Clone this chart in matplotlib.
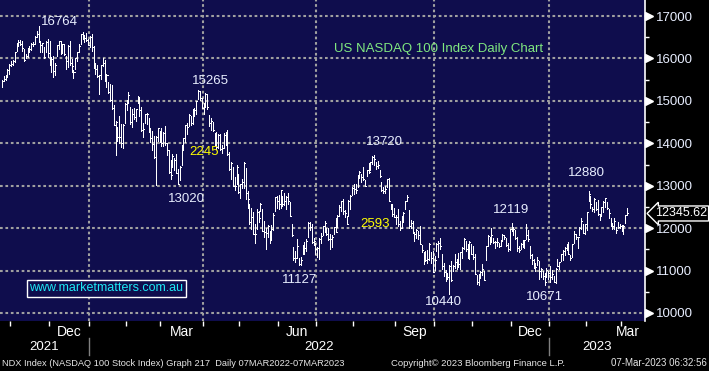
import numpy as np
import pandas as pd
import matplotlib
matplotlib.use('Agg')
import matplotlib.pyplot as plt
from matplotlib import transforms

plt.rcParams['font.family'] = ['Liberation Sans', 'DejaVu Sans']

# NYSE holidays in the window (trading calendar for the x axis)
holidays = ['2021-11-25', '2021-12-24', '2022-01-17', '2022-02-21', '2022-04-15',
            '2022-05-30', '2022-06-20', '2022-07-04', '2022-09-05', '2022-11-24',
            '2022-12-26', '2023-01-02', '2023-01-16', '2023-02-20']

# daily highs / lows / closes, 25 Oct 2021 .. 6 Mar 2023
high = [
    # Oct 2021
    15500, 15590, 15620, 15750, 15860,
    # Nov
    15930, 15970, 16160, 16370, 16440, 16440, 16400, 16230, 16110, 16250,
    16290, 16370, 16380, 16520, 16640, 16764, 16400, 16370, 16270, 16420, 16450,
    # Dec
    16400, 16040, 16060, 15900, 16320, 16420, 16400, 16340, 16340, 16050, 16320,
    16410, 15980, 15730, 16000, 16160, 16330, 16570, 16630, 16560, 16590, 16470,
    # Jan 2022
    16520, 16570, 16300, 15900, 15840, 15600, 15850, 16000, 15960, 15630,
    15450, 15400, 15380, 14900, 14520, 14390, 14640, 14460, 14450, 14940,
    # Feb
    15030, 15200, 14850, 14810, 14830, 14820, 15110, 15060, 14850, 14470,
    14690, 14710, 14600, 14360, 14290, 14180, 14170, 14360, 14300,
    # Mar
    14350, 14260, 14400, 14000, 13850, 13600, 13740, 13650, 13740, 13400, 13460, 13960,
    14120, 14420, 14470, 14700, 14640, 14800, 14840, 15000, 15265, 15230, 15070,
    # Apr
    14950, 15180, 15160, 14670, 14600, 14500, 14240, 14270, 14230, 14230,
    13960, 14240, 14270, 14320, 13790, 13560, 13440, 13200, 13500, 13270,
    # May
    13050, 13160, 13570, 13410, 12880, 12560, 12480, 12380, 12100, 12450, 12410,
    12600, 12440, 12170, 12000, 12070, 11930, 12080, 12360, 12730, 12760,
    # Jun
    12790, 12890, 12760, 12830, 12760, 12820, 12620, 12100, 11550, 11450, 11750,
    11300, 11330, 11600, 11680, 11740, 12140, 12150, 12090, 11770, 11660,
    # Jul
    11560, 11760, 11890, 12060, 12180, 12010, 12000, 11860, 11830, 12030,
    12230, 12300, 12540, 12650, 12680, 12420, 12280, 12670, 12790, 12980,
    # Aug
    13040, 13050, 13260, 13340, 13280, 13430, 13140, 13380, 13530, 13570, 13690, 13720,
    13570, 13580, 13380, 13080, 12970, 13000, 13160, 13190, 12560, 12560, 12480,
    # Sep
    12300, 12450, 12180, 12280, 12380, 12640, 12790, 12420, 12190, 12160, 11880,
    11980, 11930, 12060, 11610, 11430, 11450, 11490, 11660, 11440, 11460,
    # Oct
    11350, 11660, 11700, 11760, 11380, 11180, 11020, 10950, 11140, 11230, 11140,
    11390, 11270, 11420, 11440, 11560, 11770, 11690, 11620, 11690, 11620,
    # Nov
    11590, 11390, 10900, 10930, 10990, 11150, 11000, 11590, 11830, 11790, 12000,
    11770, 11700, 11770, 11660, 11730, 11860, 11830, 11760, 11640, 11990,
    # Dec
    12119, 12000, 11960, 11780, 11580, 11640, 11710, 11710, 12100, 11960, 11580,
    11380, 11270, 11180, 11310, 11220, 11050, 10990, 10940, 11070, 10980,
    # Jan 2023
    11100, 11010, 10880, 11060, 11280, 11210, 11390, 11480, 11550, 11620,
    11680, 11360, 11630, 11930, 11860, 11780, 12020, 12240, 12090, 12100,
    # Feb
    12390, 12880, 12750, 12510, 12720, 12610, 12670, 12340, 12500, 12630,
    12710, 12620, 12460, 12230, 12130, 12250, 12020, 12140, 12100,
    # Mar
    12070, 12080, 12300, 12470,
]

low = [
    15330, 15460, 15500, 15560, 15640,
    15820, 15850, 15910, 16180, 16290, 16310, 16180, 15930, 16000, 16040,
    16150, 16210, 16300, 16330, 16510, 16380, 16150, 16150, 16000, 16150, 16030,
    15840, 15680, 15560, 15620, 16050, 16230, 16100, 16130, 16070, 15760, 15800,
    15850, 15680, 15550, 15760, 15940, 16160, 16330, 16460, 16390, 16420, 16320,
    16270, 16170, 15770, 15630, 15560, 15170, 15520, 15830, 15480, 15330,
    15180, 15000, 14800, 14430, 13720, 14050, 14000, 13910, 13900, 14490,
    14780, 14950, 14460, 14380, 14570, 14530, 14950, 14640, 14280, 14150,
    14490, 14450, 14270, 14040, 13840, 13660, 13020, 14060, 14040,
    13930, 13930, 13960, 13720, 13310, 13150, 13450, 13370, 13290, 13030, 13130, 13490,
    13850, 14030, 14230, 14400, 14440, 14450, 14650, 14700, 15040, 15010, 14830,
    14700, 14860, 14800, 14400, 14310, 14300, 13950, 13860, 13880, 13850,
    13780, 13880, 13950, 13720, 13360, 13150, 12990, 12900, 13050, 12840,
    12720, 12950, 12950, 12690, 12480, 12100, 11990, 11860, 11660, 11980, 12140,
    12400, 11930, 11800, 11500, 11800, 11640, 11730, 11950, 12410, 12470,
    12460, 12470, 12530, 12550, 12460, 12580, 12280, 11820, 11260, 11200, 11290,
    11127, 11140, 11390, 11400, 11470, 11790, 11950, 11650, 11600, 11380,
    11330, 11270, 11660, 11830, 11920, 11840, 11720, 11520, 11550, 11870,
    11910, 12030, 12290, 12400, 12330, 12260, 12090, 12290, 12460, 12780,
    12810, 12830, 12960, 13190, 13080, 13130, 12990, 13240, 13300, 13360, 13510, 13500,
    13390, 13420, 13200, 12870, 12840, 12830, 12960, 12640, 12440, 12280, 12270,
    12100, 12040, 11950, 12000, 12140, 12460, 12650, 12000, 12000, 11880, 11700,
    11770, 11750, 11620, 11430, 11150, 11230, 11180, 11240, 11180, 10960,
    11020, 11470, 11310, 11520, 11040, 10880, 10750, 10800, 10440, 10750, 10990,
    11050, 11040, 11090, 11030, 11300, 11520, 11460, 11290, 11270, 11380,
    11280, 10920, 10680, 10660, 10830, 10890, 10770, 11260, 11570, 11630, 11680,
    11660, 11530, 11590, 11550, 11570, 11700, 11750, 11580, 11460, 11490,
    11930, 11830, 11740, 11460, 11430, 11500, 11560, 11540, 11740, 11690, 11290,
    11150, 11060, 10990, 11120, 10800, 10850, 10800, 10671, 10840, 10810,
    10740, 10790, 10720, 10700, 11100, 11040, 11230, 11250, 11360, 11480,
    11390, 11250, 11330, 11640, 11740, 11540, 11850, 11990, 11880, 11860,
    11950, 12640, 12470, 12400, 12370, 12430, 12300, 12200, 12290, 12370,
    12500, 12460, 12250, 12040, 11990, 11980, 11890, 12000, 12000,
    11930, 11860, 12120, 12320,
]

close = [
    15470, 15510, 15560, 15730, 15850,
    15880, 15950, 16150, 16350, 16380, 16350, 16250, 15970, 16050, 16230,
    16220, 16330, 16330, 16500, 16573, 16390, 16310, 16360, 16030, 16380, 16135,
    15850, 15990, 15700, 15840, 16320, 16410, 16120, 16330, 16100, 15940, 16300,
    15900, 15830, 15670, 16000, 16150, 16290, 16570, 16480, 16480, 16440, 16320,
    16500, 16280, 15770, 15760, 15590, 15600, 15840, 15900, 15500, 15610,
    15200, 15030, 14830, 14440, 14510, 14150, 14140, 14000, 14440, 14930,
    15020, 15130, 14500, 14700, 14630, 14800, 15100, 14780, 14320, 14330,
    14680, 14700, 14280, 14130, 13990, 13670, 14150, 14360, 14240,
    14010, 14240, 14000, 13840, 13320, 13250, 13710, 13600, 13300, 13050, 13450, 13950,
    14120, 14420, 14390, 14670, 14470, 14790, 14780, 14990, 15240, 15070, 14840,
    14860, 15170, 14850, 14490, 14520, 14320, 13970, 13910, 14200, 13860,
    13900, 14200, 14030, 13740, 13390, 13540, 13000, 12990, 13450, 12850,
    13030, 13080, 13530, 12840, 12680, 12140, 12260, 11870, 11860, 12390, 12240,
    12570, 11940, 11910, 11880, 12060, 11820, 11990, 12310, 12730, 12640,
    12560, 12890, 12570, 12630, 12740, 12650, 12290, 11830, 11300, 11290, 11570,
    11150, 11250, 11550, 11530, 11700, 12130, 12030, 11670, 11690, 11500,
    11530, 11740, 11810, 12050, 12130, 11860, 11750, 11750, 11800, 12030,
    11920, 12290, 12490, 12640, 12400, 12350, 12100, 12640, 12760, 12950,
    12930, 12890, 13250, 13320, 13210, 13170, 13000, 13370, 13320, 13570, 13680, 13630,
    13470, 13500, 13230, 12890, 12880, 12920, 13150, 12640, 12480, 12340, 12270,
    12270, 12090, 12000, 12250, 12350, 12630, 12740, 12040, 12130, 11920, 11860,
    11960, 11840, 11630, 11480, 11310, 11250, 11270, 11630, 11290, 10970,
    11250, 11630, 11650, 11570, 11100, 10970, 10850, 10840, 11100, 10780, 11110,
    11210, 11170, 11150, 11430, 11530, 11750, 11500, 11300, 11680, 11400,
    11310, 10930, 10720, 10880, 10960, 11040, 10780, 11570, 11810, 11670, 11840,
    11680, 11670, 11680, 11580, 11720, 11830, 11780, 11600, 11510, 11990,
    12030, 11980, 11770, 11530, 11480, 11620, 11570, 11710, 11830, 11750, 11360,
    11250, 11090, 11080, 11250, 10980, 11030, 10880, 10740, 11020, 10940,
    10860, 10910, 10740, 11040, 11110, 11200, 11390, 11460, 11540, 11550,
    11400, 11290, 11620, 11870, 11800, 11780, 12010, 12170, 11890, 12100,
    12370, 12800, 12570, 12450, 12680, 12440, 12330, 12300, 12490, 12610,
    12700, 12480, 12350, 12040, 12060, 12160, 11950, 12030, 12040,
    11960, 12060, 12300, 12345.62,
]

# (value, text, offset px right, offset px up); anchored on the last bar touching the value
peak_labels = [(16764, '16764', 21, 4), (15265, '15265', 12, 9), (13020, '13020', 31, -14),
               (13720, '13720', 10, 13), (11127, '11127', 1, -15), (10440, '10440', -6, -8),
               (12119, '12119', 0, 13), (10671, '10671', 0, -12), (12880, '12880', -2, 18)]
# yellow range labels: (anchor value, text, dx, dy)
range_labels = [(15265, '2245', 6, -62), (13720, '2593', 1, -69)]

dates = pd.bdate_range('2021-10-25', '2023-03-06')
dates = dates[~dates.isin(pd.to_datetime(holidays))]
n = len(close)
dates = dates[:n]
x = np.arange(n)
high = np.array(high)
low = np.array(low)
close = np.array(close)

navy = '#0f0d4d'
grid_kw = dict(color='#a0a0a0', lw=1.5, ls=(0, (1.3, 1.3)))
txt = '#e8eeff'

fig = plt.figure(figsize=(7.09, 3.71), dpi=100, facecolor='black')
ax = fig.add_axes([0, 50 / 371, 645 / 709, 321 / 371], facecolor=navy)
ax.set_xlim(-1.04, 350.8)
ax.set_ylim(9811, 17378)

# month boundaries
starts = [i for i in range(1, n) if dates[i].month != dates[i - 1].month]
bounds = [s - 0.5 for s in starts]
for s in starts:
    if dates[s].month in (1, 4, 7, 10):
        ax.axvline(s - 0.5, zorder=1, **grid_kw)

ax.set_yticks(range(10000, 17001, 1000))
ax.set_yticks(range(10500, 17000, 1000), minor=True)
ax.yaxis.grid(True, which='major', zorder=1, **grid_kw)
ax.set_axisbelow(True)

# OHLC bars (close tick on the right)
ax.vlines(x, low, high, color='white', lw=0.72, antialiased=False, zorder=3)
ax.hlines(close, x, x + 0.6, color='white', lw=0.72, antialiased=False, zorder=3)

for sp in ['top', 'left', 'bottom']:
    ax.spines[sp].set_visible(False)
ax.spines['right'].set_color('white')
ax.spines['right'].set_linewidth(1.2)

ax.yaxis.tick_right()
ax.tick_params(axis='y', which='major', length=0, pad=8, labelcolor=txt, labelsize=9.5)
ax.tick_params(axis='y', which='minor', length=3, width=1, color='white')
blend_y = transforms.blended_transform_factory(ax.transAxes, ax.transData)
ax.plot([1.0065] * 8, list(range(10000, 17001, 1000)), ls='none', marker='>', ms=6,
        color='white', transform=blend_y, clip_on=False)

ax.set_xticks(bounds)
ax.set_xticklabels([])
ax.tick_params(axis='x', length=3.5, width=1, color='white', direction='out')

blend_x = transforms.blended_transform_factory(ax.transData, ax.transAxes)
edges = [0] + starts + [n]
for a, b in zip(edges[:-1], edges[1:]):
    m = dates[a].month
    if m in (3, 6, 9, 12):
        ax.text((a + b - 1) / 2 + (2 if b == n else 0), -0.034, dates[a].strftime('%b'),
                transform=blend_x, ha='center', va='center', color='white', fontsize=10)

year_starts = [s for s in starts if dates[s].month == 1]
yedges = [ax.get_xlim()[0]] + [s - 0.5 for s in year_starts] + [ax.get_xlim()[1]]
years = ['2021', '2022', '2023']
for yr, a, b in zip(years, yedges[:-1], yedges[1:]):
    ax.text((a + b) / 2, -0.081, yr, transform=blend_x, ha='center', va='center',
            color='white', fontsize=9.5)
for s in year_starts:
    ax.plot([s - 0.5, s - 0.5], [-0.053, -0.106], transform=blend_x, color='#808080',
            lw=1, clip_on=False)


def bar_of(val):
    hit = np.where(high == val)[0]
    if len(hit) == 0:
        hit = np.where(low == val)[0]
    return int(hit[-1])


# peak / trough labels
for val, t, dx, dy in peak_labels:
    ax.annotate(t, xy=(bar_of(val), val), xytext=(dx * 0.72, dy * 0.72),
                textcoords='offset points', ha='center', va='center', color=txt,
                fontsize=9.5, zorder=5)
for val, t, dx, dy in range_labels:
    ax.annotate(t, xy=(bar_of(val), val), xytext=(dx * 0.72, dy * 0.72),
                textcoords='offset points', ha='center', va='center', color='#ffff00',
                fontsize=9.5, zorder=5)

ax.text(439 / 645, (321 - 49) / 321, 'US NASDAQ 100 Index Daily Chart', transform=ax.transAxes,
        ha='center', va='center', color='#80e880', fontsize=9.5)

ax.text(106 / 645, (321 - 288) / 321, 'www.marketmatters.com.au', transform=ax.transAxes,
        ha='center', va='center', color='#1ee8f5', fontsize=9,
        bbox=dict(boxstyle='square,pad=0.2', fc=navy, ec='white', lw=1))

# last price tag
ax.text(1.0155, close[-1], '%.2f' % close[-1], transform=blend_y, ha='left', va='center',
        color='white', fontsize=9, clip_on=False,
        bbox=dict(boxstyle='larrow,pad=0.12', fc='black', ec='white', lw=1))

fy = 1 - 363 / 371
fig.text(2 / 709, fy, 'NDX Index (NASDAQ 100 Stock Index) Graph 217  Daily 07MAR2022-07MAR2023',
         ha='left', va='center', color='#e6e6e6', fontsize=6.7)
fig.text(391 / 709, fy, 'Copyright\u00a9 2023 Bloomberg Finance L.P.', ha='left', va='center',
         color='#e6e6e6', fontsize=6.8)
fig.text(707 / 709, fy, '07-Mar-2023 06:32:56', ha='right', va='center', color='#e6e6e6',
         fontsize=7)

fig.savefig('out.png', dpi=100, facecolor='black')
